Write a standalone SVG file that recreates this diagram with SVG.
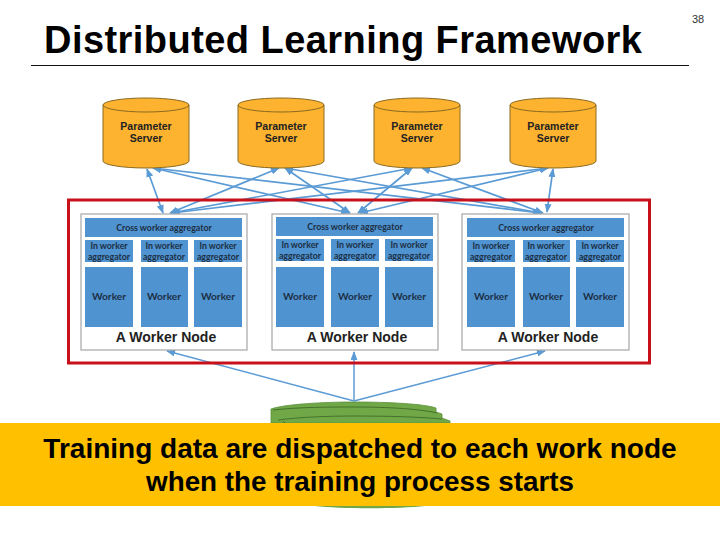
<svg xmlns="http://www.w3.org/2000/svg" width="720" height="540" viewBox="0 0 720 540">
<style>
.t{font-family:"Liberation Sans",Arial,sans-serif}
.l{font-family:Lato,"Liberation Sans",sans-serif}
.b{font-weight:bold;fill:#222;text-anchor:middle}
.srv{font-size:10.5px}
.small{font-size:8.8px;fill:#1d2f45}
.wk{font-size:10.200px;fill:#1d2f45}
.nl{font-size:14px}
.box{fill:#fff;stroke:#a6a6a6;stroke-width:1.2}
.blue{fill:#4f93d0}
.cyl{fill:#fdb32f;stroke:#8a6a20;stroke-width:1}
.con{stroke:#5b9bd5;stroke-width:1.7;fill:none;marker-start:url(#a);marker-end:url(#a)}
.con2{stroke:#5b9bd5;stroke-width:1.5;fill:none;marker-end:url(#a)}
</style>
<defs>
<marker id="a" viewBox="0 0 10 10" refX="9" refY="5" markerWidth="9" markerHeight="7" markerUnits="userSpaceOnUse" orient="auto-start-reverse" preserveAspectRatio="none"><path d="M0 0L10 5L0 10Z" fill="#5b9bd5"/></marker>
<g id="cy"><path class="cyl" d="M0 7A43 7 0 0 1 86 7V63A43 7 0 0 1 0 63Z"/><path d="M0 7A43 7 0 0 0 86 7" fill="none" stroke="#8a6a20"/></g>
</defs>
<rect width="720" height="540" fill="#fff"/>
<text class="t" x="44" y="53" font-size="38" font-weight="bold" fill="#000" textLength="598" lengthAdjust="spacing">Distributed Learning Framework</text>
<path d="M31 65.500H689" stroke="#111" stroke-width="1"/>
<text class="t" x="692" y="23" font-size="11" fill="#333">38</text>

<g id="connectors">
<path class="con" d="M147 169L163 213"/>
<path class="con" d="M153 168L349 213"/>
<path class="con" d="M153 168L541 213"/>
<path class="con" d="M279 168L170 213"/>
<path class="con" d="M285 168L350 213"/>
<path class="con" d="M285 168L541 213"/>
<path class="con" d="M412 168L171 213"/>
<path class="con" d="M412 168L358 213"/>
<path class="con" d="M422 168L543 213"/>
<path class="con" d="M548 168L172 213"/>
<path class="con" d="M548 168L360 213"/>
<path class="con" d="M553 169L547 212"/>
<path class="con2" d="M354 401L167 351"/>
<path class="con2" d="M354 401V352"/>
<path class="con2" d="M354 401L545 351"/>
</g>

<g id="server1"><use href="#cy" x="103" y="98"/><text class="t b srv" x="146" y="130">Parameter</text><text class="t b srv" x="146" y="142">Server</text></g>
<g id="server2"><use href="#cy" x="238" y="98"/><text class="t b srv" x="281" y="130">Parameter</text><text class="t b srv" x="281" y="142">Server</text></g>
<g id="server3"><use href="#cy" x="374" y="98"/><text class="t b srv" x="417" y="130">Parameter</text><text class="t b srv" x="417" y="142">Server</text></g>
<g id="server4"><use href="#cy" x="510" y="98"/><text class="t b srv" x="553" y="130">Parameter</text><text class="t b srv" x="553" y="142">Server</text></g>

<rect id="frame" x="68.500" y="200" width="581" height="163" fill="none" stroke="#c8101a" stroke-width="3"/>

<g id="node1">
<rect class="box" x="81" y="214" width="166" height="136"/>
<rect class="blue" x="85" y="218" width="157" height="19"/><text class="l b small" x="164" y="231">Cross worker aggregator</text>
<rect class="blue" x="85" y="240" width="48" height="22"/><text class="l b small" x="109" y="249">In worker</text><text class="l b small" x="109" y="260">aggregator</text>
<rect class="blue" x="141" y="240" width="47" height="22"/><text class="l b small" x="164" y="249">In worker</text><text class="l b small" x="164" y="260">aggregator</text>
<rect class="blue" x="194" y="240" width="48" height="22"/><text class="l b small" x="218" y="249">In worker</text><text class="l b small" x="218" y="260">aggregator</text>
<rect class="blue" x="85" y="267" width="48" height="60"/><text class="l b wk" x="109" y="300">Worker</text>
<rect class="blue" x="141" y="267" width="47" height="60"/><text class="l b wk" x="164" y="300">Worker</text>
<rect class="blue" x="194" y="267" width="48" height="60"/><text class="l b wk" x="218" y="300">Worker</text>
<text class="t b nl" x="166" y="342">A Worker Node</text>
</g>
<g id="node2">
<rect class="box" x="272" y="214" width="166" height="136"/>
<rect class="blue" x="276" y="217" width="157" height="19"/><text class="l b small" x="355" y="230">Cross worker aggregator</text>
<rect class="blue" x="276" y="239" width="48" height="22"/><text class="l b small" x="300" y="248">In worker</text><text class="l b small" x="300" y="259">aggregator</text>
<rect class="blue" x="331" y="239" width="48" height="22"/><text class="l b small" x="355" y="248">In worker</text><text class="l b small" x="355" y="259">aggregator</text>
<rect class="blue" x="385" y="239" width="48" height="22"/><text class="l b small" x="409" y="248">In worker</text><text class="l b small" x="409" y="259">aggregator</text>
<rect class="blue" x="276" y="267" width="48" height="60"/><text class="l b wk" x="300" y="300">Worker</text>
<rect class="blue" x="331" y="267" width="48" height="60"/><text class="l b wk" x="355" y="300">Worker</text>
<rect class="blue" x="385" y="267" width="48" height="60"/><text class="l b wk" x="409" y="300">Worker</text>
<text class="t b nl" x="357" y="342">A Worker Node</text>
</g>
<g id="node3">
<rect class="box" x="462" y="214" width="167" height="136"/>
<rect class="blue" x="467" y="218" width="157" height="19"/><text class="l b small" x="546" y="231">Cross worker aggregator</text>
<rect class="blue" x="467" y="240" width="48" height="22"/><text class="l b small" x="491" y="249">In worker</text><text class="l b small" x="491" y="260">aggregator</text>
<rect class="blue" x="523" y="240" width="47" height="22"/><text class="l b small" x="546" y="249">In worker</text><text class="l b small" x="546" y="260">aggregator</text>
<rect class="blue" x="576" y="240" width="48" height="22"/><text class="l b small" x="600" y="249">In worker</text><text class="l b small" x="600" y="260">aggregator</text>
<rect class="blue" x="467" y="267" width="48" height="60"/><text class="l b wk" x="491" y="300">Worker</text>
<rect class="blue" x="523" y="267" width="47" height="60"/><text class="l b wk" x="546" y="300">Worker</text>
<rect class="blue" x="576" y="267" width="48" height="60"/><text class="l b wk" x="600" y="300">Worker</text>
<text class="t b nl" x="548" y="342">A Worker Node</text>
</g>

<g id="data">
<path d="M271 423V409C285 404 325 402 354 402C390 402 425 404 436 408V412L442 414V418L450 421V423Z" fill="#70a848" stroke="#5c8f3a" stroke-width="0.8"/>
<path d="M273 410C300 407 330 407 354 407C390 407 420 409 437 413M278 420C300 417 330 416 354 416C390 416 420 417 442 419M285 423L283 421" fill="none" stroke="#3f6b26" stroke-width="0.9"/>
<path d="M315 506C340 509 400 509 425 506Z" fill="#70a848"/>
</g>

<g id="callout">
<rect x="0" y="423" width="720" height="83" fill="#ffc000"/>
<text class="t" x="360" y="458" font-size="28" font-weight="bold" fill="#000" text-anchor="middle">Training data are dispatched to each work node</text>
<text class="t" x="360" y="491" font-size="27.800" font-weight="bold" fill="#000" text-anchor="middle">when the training process starts</text>
</g>
</svg>
